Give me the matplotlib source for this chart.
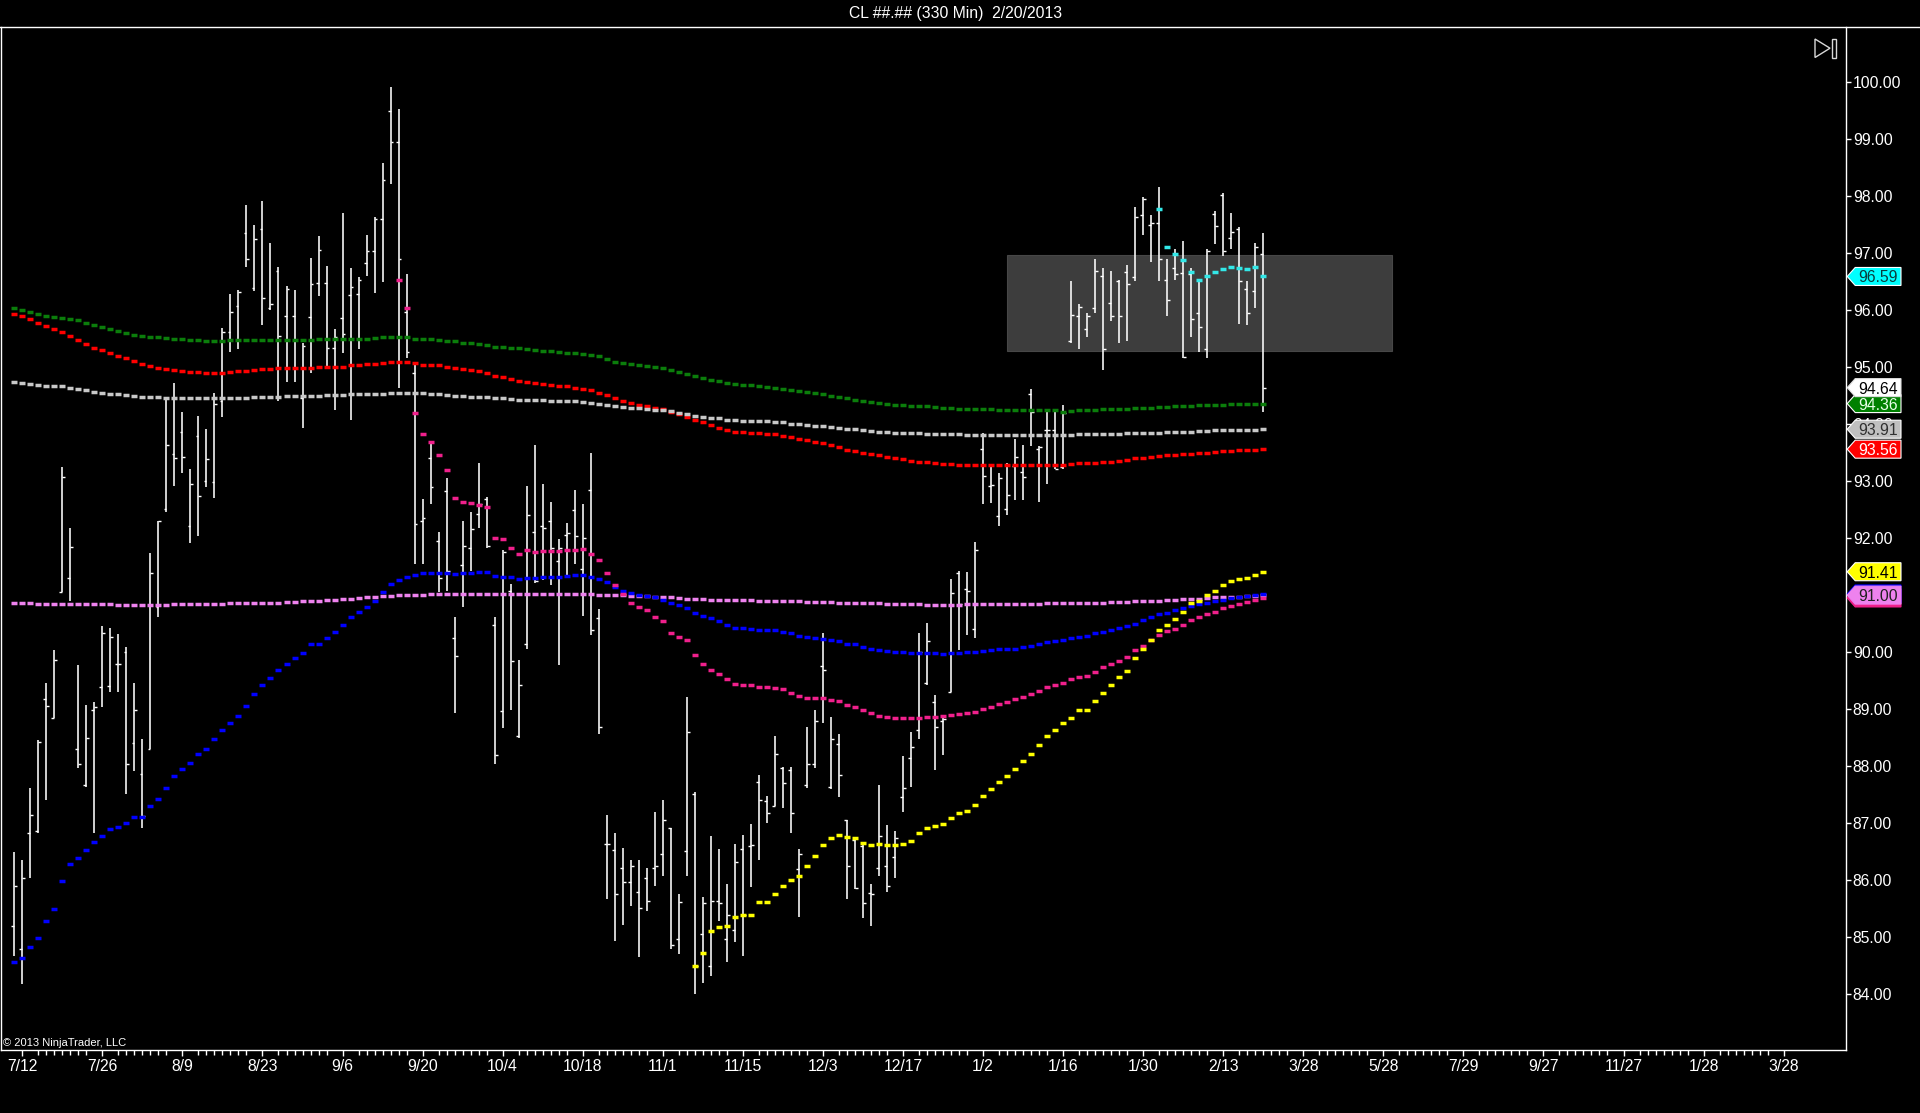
import numpy as np
import matplotlib
matplotlib.use("Agg")
import matplotlib.pyplot as plt
from matplotlib.patches import Polygon, Rectangle
from matplotlib.lines import Line2D

plt.rcParams['font.family'] = ['Liberation Sans', 'DejaVu Sans']

TITLE = "CL ##.## (330 Min)  2/20/2013"
COPYRIGHT = "\u00a9 2013 NinjaTrader, LLC"

OPEN = [85.19, 84.79, 86.83, 86.87, 89.17, 88.84, 91.06, 91.30, 88.30, 87.67,
        88.98, 89.38, 89.40, 89.80, 90.01, 88.41, 87.87, 88.30, 90.80, 92.51,
        93.48, 93.87, 92.22, 93.80, 93.01, 92.98, 94.40, 95.62, 96.08, 97.35,
        96.38, 97.43, 96.03, 96.69, 95.90, 95.90, 94.46, 95.88, 96.48, 96.48,
        95.34, 95.87, 96.26, 96.28, 96.83, 97.04, 97.60, 99.50, 98.95, 95.97,
        94.90, 92.30, 93.40, 91.95, 92.82, 90.24, 91.52, 91.83, 92.43, 92.69,
        90.48, 88.96, 91.08, 88.52, 90.14, 92.11, 92.22, 92.30, 91.60, 92.06,
        92.50, 91.45, 92.85, 90.59, 86.64, 86.52, 86.22, 85.96, 85.80, 86.03,
        86.22, 86.45, 86.91, 84.96, 86.51, 87.51, 85.06, 84.49, 85.64, 84.96,
        85.12, 86.54, 86.59, 87.72, 87.38, 87.30, 87.96, 87.93, 86.20, 87.67,
        88.03, 89.75, 87.64, 88.38, 87.06, 86.70, 86.59, 85.78, 86.22, 86.24,
        86.40, 87.46, 88.14, 88.64, 89.46, 89.12, 88.80, 89.30, 91.38, 91.11,
        90.41, 93.56, 92.92, 92.38, 92.51, 93.27, 93.16, 94.53, 93.56, 93.90,
        93.90, 93.24, 95.45, 95.90, 95.66, 96.03, 96.60, 96.13, 96.51, 96.67,
        96.58, 97.67, 97.50, 97.53, 96.53, 96.74, 96.65, 96.64, 95.95, 95.32,
        97.69, 98.02, 97.27, 97.42, 96.37, 96.34, 96.99]
HIGH = [86.49, 86.35, 87.61, 88.46, 89.46, 90.04, 93.25, 92.18, 89.77, 89.08,
        89.12, 90.46, 90.43, 90.31, 90.09, 89.46, 88.48, 91.74, 92.30, 94.45,
        94.72, 94.21, 93.21, 94.14, 93.92, 94.55, 95.69, 96.28, 96.35, 97.85,
        97.50, 97.92, 97.17, 96.75, 96.43, 96.35, 95.43, 96.92, 97.30, 96.78,
        95.67, 97.71, 96.74, 96.58, 97.32, 97.64, 98.58, 99.92, 99.53, 96.64,
        95.06, 92.68, 93.67, 92.11, 93.06, 90.62, 92.30, 92.45, 93.32, 92.72,
        90.62, 91.80, 91.19, 89.87, 92.92, 93.64, 92.95, 92.64, 91.99, 92.27,
        92.85, 92.59, 93.50, 90.75, 87.14, 86.83, 86.57, 86.35, 86.35, 86.22,
        87.19, 87.40, 86.91, 85.75, 89.22, 87.54, 85.70, 86.77, 86.54, 85.93,
        86.64, 86.80, 86.98, 87.85, 87.48, 88.52, 87.99, 87.99, 86.54, 88.69,
        88.98, 90.33, 88.87, 88.56, 87.06, 86.72, 86.64, 85.93, 87.66, 86.96,
        86.86, 88.17, 88.59, 90.33, 90.51, 89.25, 88.85, 91.29, 91.43, 91.40,
        91.93, 93.85, 93.27, 93.14, 93.32, 93.74, 93.64, 94.62, 93.61, 94.22,
        94.22, 94.34, 96.51, 96.11, 95.95, 96.90, 96.74, 96.69, 96.53, 96.79,
        97.81, 97.98, 97.66, 98.16, 96.90, 97.08, 97.21, 96.74, 96.55, 97.08,
        97.74, 98.06, 97.71, 97.45, 96.51, 97.18, 97.35]
LOW = [84.67, 84.17, 86.03, 86.83, 87.40, 88.84, 91.06, 90.89, 87.96, 87.64,
       86.82, 89.04, 89.30, 89.30, 87.51, 87.91, 86.91, 88.30, 90.61, 92.45,
       92.91, 93.14, 91.92, 92.03, 92.89, 92.71, 94.13, 95.27, 95.31, 96.76,
       96.34, 95.74, 96.00, 94.40, 94.74, 94.74, 93.94, 94.90, 96.24, 95.01,
       94.25, 95.25, 94.07, 95.32, 96.59, 96.30, 96.49, 98.21, 94.64, 95.16,
       91.54, 91.54, 92.59, 91.06, 91.08, 88.94, 90.80, 91.43, 92.17, 91.82,
       88.03, 88.66, 88.98, 88.50, 90.06, 91.22, 91.27, 91.17, 89.78, 91.32,
       91.54, 90.64, 90.30, 88.57, 85.66, 84.93, 85.22, 85.54, 84.65, 85.46,
       85.89, 86.07, 84.80, 84.70, 86.07, 84.01, 84.20, 84.31, 85.28, 84.56,
       84.91, 84.67, 85.88, 86.35, 87.01, 87.30, 87.27, 86.83, 85.36, 87.61,
       87.96, 88.75, 87.59, 87.46, 85.66, 85.85, 85.33, 85.19, 86.07, 85.80,
       86.03, 87.19, 87.64, 88.48, 89.43, 87.93, 88.20, 89.30, 90.03, 90.30,
       90.24, 92.59, 92.62, 92.22, 92.41, 92.66, 92.66, 93.61, 92.64, 92.95,
       93.22, 93.22, 95.43, 95.32, 95.53, 95.95, 94.95, 95.81, 95.42, 95.46,
       96.51, 97.32, 96.85, 96.51, 95.90, 96.53, 95.16, 95.53, 95.27, 95.16,
       97.16, 96.95, 97.08, 95.76, 95.74, 96.03, 94.22]
CLOSE = [85.89, 86.03, 87.14, 88.43, 89.06, 89.87, 93.08, 91.84, 88.03, 88.50,
         89.04, 90.33, 90.27, 89.80, 88.04, 88.98, 87.12, 91.38, 92.30, 93.64,
         93.40, 93.42, 92.95, 92.74, 93.38, 94.36, 95.62, 95.97, 96.32, 96.89,
         97.25, 96.22, 96.11, 95.54, 96.37, 94.98, 95.37, 96.46, 97.06, 95.34,
         95.53, 95.58, 96.40, 96.53, 97.04, 97.60, 98.29, 98.95, 96.90, 95.27,
         92.25, 92.35, 92.90, 91.30, 91.43, 89.93, 91.87, 92.16, 92.60, 91.87,
         88.19, 91.75, 89.85, 89.43, 92.40, 91.25, 92.17, 91.82, 91.82, 92.09,
         92.03, 92.01, 90.38, 88.69, 86.64, 85.75, 85.96, 86.24, 85.51, 85.64,
         86.24, 87.06, 84.86, 85.61, 88.59, 84.50, 85.60, 85.64, 85.59, 85.38,
         86.31, 85.38, 86.61, 87.40, 87.17, 88.22, 87.70, 87.17, 86.45, 88.03,
         88.80, 89.69, 88.48, 87.85, 86.24, 85.86, 85.59, 85.75, 86.77, 85.89,
         86.73, 87.61, 88.33, 90.00, 90.20, 88.69, 88.83, 91.03, 90.85, 91.08,
         91.80, 93.09, 92.93, 93.06, 92.76, 93.43, 93.08, 94.22, 93.59, 93.90,
         93.22, 94.20, 95.92, 96.06, 95.90, 96.69, 95.32, 95.90, 95.90, 96.45,
         97.64, 97.95, 97.53, 96.90, 96.18, 96.64, 95.18, 95.85, 95.71, 97.03,
         97.48, 97.04, 97.37, 96.51, 95.95, 97.11, 94.64]

MA_GREEN = [96.04, 96.00, 95.97, 95.93, 95.90, 95.88, 95.86, 95.84, 95.82, 95.78,
            95.74, 95.71, 95.67, 95.64, 95.60, 95.57, 95.55, 95.53, 95.52, 95.51,
            95.50, 95.49, 95.48, 95.47, 95.46, 95.46, 95.46, 95.47, 95.47, 95.47,
            95.47, 95.47, 95.47, 95.48, 95.48, 95.48, 95.48, 95.48, 95.49, 95.49,
            95.49, 95.49, 95.50, 95.50, 95.50, 95.51, 95.52, 95.53, 95.53, 95.52,
            95.50, 95.49, 95.49, 95.47, 95.46, 95.45, 95.43, 95.42, 95.40, 95.38,
            95.36, 95.35, 95.34, 95.33, 95.31, 95.30, 95.29, 95.28, 95.27, 95.25,
            95.24, 95.23, 95.22, 95.19, 95.14, 95.09, 95.07, 95.05, 95.04, 95.02,
            95.01, 94.98, 94.95, 94.92, 94.88, 94.84, 94.81, 94.78, 94.75, 94.72,
            94.70, 94.69, 94.68, 94.67, 94.65, 94.64, 94.62, 94.60, 94.58, 94.56,
            94.54, 94.52, 94.50, 94.48, 94.46, 94.43, 94.41, 94.39, 94.37, 94.35,
            94.34, 94.33, 94.32, 94.31, 94.31, 94.30, 94.29, 94.28, 94.27, 94.27,
            94.26, 94.26, 94.26, 94.25, 94.25, 94.25, 94.25, 94.24, 94.24, 94.24,
            94.24, 94.22, 94.23, 94.24, 94.24, 94.25, 94.26, 94.26, 94.27, 94.27,
            94.28, 94.29, 94.29, 94.30, 94.30, 94.31, 94.32, 94.32, 94.33, 94.33,
            94.34, 94.34, 94.35, 94.35, 94.35, 94.36, 94.36]
MA_RED = [95.94, 95.90, 95.85, 95.78, 95.72, 95.67, 95.62, 95.55, 95.48, 95.41,
          95.34, 95.30, 95.25, 95.20, 95.16, 95.11, 95.06, 95.02, 94.99, 94.97,
          94.95, 94.93, 94.92, 94.91, 94.90, 94.89, 94.90, 94.92, 94.93, 94.94,
          94.95, 94.96, 94.97, 94.98, 94.98, 94.99, 94.99, 94.99, 95.00, 95.00,
          95.00, 95.01, 95.03, 95.04, 95.05, 95.06, 95.08, 95.09, 95.09, 95.09,
          95.07, 95.04, 95.04, 95.03, 95.01, 94.99, 94.97, 94.95, 94.93, 94.89,
          94.85, 94.82, 94.79, 94.76, 94.74, 94.72, 94.70, 94.69, 94.67, 94.66,
          94.64, 94.61, 94.59, 94.55, 94.51, 94.45, 94.40, 94.37, 94.34, 94.31,
          94.29, 94.26, 94.22, 94.18, 94.13, 94.08, 94.03, 93.98, 93.93, 93.89,
          93.86, 93.86, 93.85, 93.84, 93.83, 93.82, 93.80, 93.77, 93.74, 93.72,
          93.69, 93.66, 93.63, 93.59, 93.54, 93.53, 93.50, 93.47, 93.45, 93.42,
          93.40, 93.38, 93.36, 93.34, 93.33, 93.31, 93.30, 93.30, 93.29, 93.29,
          93.29, 93.29, 93.29, 93.29, 93.29, 93.29, 93.29, 93.29, 93.29, 93.29,
          93.29, 93.29, 93.30, 93.31, 93.31, 93.32, 93.33, 93.34, 93.35, 93.37,
          93.40, 93.41, 93.43, 93.44, 93.45, 93.46, 93.47, 93.48, 93.49, 93.50,
          93.51, 93.52, 93.53, 93.54, 93.54, 93.55, 93.56]
MA_SILVER = [94.74, 94.72, 94.70, 94.68, 94.67, 94.67, 94.66, 94.64, 94.62, 94.59,
             94.56, 94.55, 94.53, 94.52, 94.51, 94.50, 94.48, 94.47, 94.47, 94.46,
             94.46, 94.46, 94.46, 94.46, 94.46, 94.46, 94.46, 94.46, 94.46, 94.46,
             94.47, 94.47, 94.48, 94.48, 94.49, 94.49, 94.49, 94.50, 94.50, 94.51,
             94.51, 94.51, 94.52, 94.52, 94.53, 94.53, 94.53, 94.54, 94.54, 94.54,
             94.54, 94.54, 94.53, 94.52, 94.51, 94.50, 94.49, 94.48, 94.47, 94.47,
             94.46, 94.45, 94.44, 94.43, 94.43, 94.42, 94.42, 94.41, 94.41, 94.40,
             94.40, 94.39, 94.37, 94.35, 94.33, 94.31, 94.30, 94.29, 94.28, 94.26,
             94.25, 94.24, 94.23, 94.20, 94.17, 94.15, 94.13, 94.11, 94.10, 94.08,
             94.07, 94.06, 94.06, 94.05, 94.05, 94.04, 94.03, 94.01, 94.00, 93.98,
             93.97, 93.96, 93.95, 93.93, 93.92, 93.92, 93.90, 93.88, 93.87, 93.86,
             93.85, 93.85, 93.84, 93.84, 93.83, 93.83, 93.82, 93.82, 93.82, 93.81,
             93.81, 93.81, 93.81, 93.81, 93.81, 93.81, 93.81, 93.81, 93.81, 93.81,
             93.81, 93.81, 93.81, 93.82, 93.82, 93.82, 93.82, 93.83, 93.83, 93.84,
             93.84, 93.84, 93.85, 93.85, 93.86, 93.86, 93.87, 93.87, 93.88, 93.88,
             93.89, 93.89, 93.89, 93.89, 93.90, 93.90, 93.91]
MA_VIOLET = [90.86, 90.86, 90.86, 90.85, 90.85, 90.85, 90.85, 90.85, 90.84, 90.84,
             90.84, 90.84, 90.84, 90.83, 90.83, 90.83, 90.82, 90.82, 90.83, 90.83,
             90.84, 90.84, 90.84, 90.85, 90.85, 90.85, 90.85, 90.86, 90.86, 90.86,
             90.86, 90.86, 90.87, 90.87, 90.88, 90.88, 90.89, 90.90, 90.90, 90.91,
             90.92, 90.93, 90.94, 90.95, 90.96, 90.97, 90.98, 90.99, 91.00, 91.00,
             91.01, 91.01, 91.02, 91.02, 91.02, 91.02, 91.02, 91.02, 91.02, 91.02,
             91.02, 91.02, 91.02, 91.02, 91.02, 91.02, 91.02, 91.02, 91.02, 91.02,
             91.02, 91.02, 91.02, 91.01, 91.01, 91.00, 91.00, 90.99, 90.98, 90.98,
             90.97, 90.96, 90.96, 90.95, 90.94, 90.93, 90.93, 90.92, 90.92, 90.91,
             90.91, 90.91, 90.91, 90.90, 90.90, 90.90, 90.89, 90.89, 90.89, 90.88,
             90.88, 90.88, 90.88, 90.87, 90.87, 90.87, 90.86, 90.86, 90.86, 90.85,
             90.85, 90.85, 90.84, 90.84, 90.83, 90.83, 90.83, 90.83, 90.83, 90.84,
             90.84, 90.84, 90.84, 90.84, 90.85, 90.85, 90.85, 90.85, 90.85, 90.86,
             90.86, 90.86, 90.86, 90.86, 90.87, 90.87, 90.87, 90.88, 90.88, 90.88,
             90.89, 90.89, 90.90, 90.90, 90.91, 90.92, 90.93, 90.93, 90.94, 90.95,
             90.96, 90.96, 90.97, 90.97, 90.98, 90.98, 91.00]
MA_BLUE = [84.56, 84.64, 84.82, 84.99, 85.28, 85.49, 85.98, 86.28, 86.38, 86.53,
           86.66, 86.77, 86.89, 86.94, 87.01, 87.10, 87.10, 87.30, 87.43, 87.61,
           87.82, 87.95, 88.06, 88.21, 88.30, 88.47, 88.63, 88.75, 88.88, 89.06,
           89.27, 89.42, 89.54, 89.69, 89.80, 89.90, 89.99, 90.14, 90.14, 90.24,
           90.35, 90.47, 90.62, 90.70, 90.79, 90.90, 91.06, 91.19, 91.27, 91.31,
           91.35, 91.38, 91.38, 91.39, 91.38, 91.37, 91.38, 91.39, 91.40, 91.40,
           91.33, 91.32, 91.31, 91.29, 91.30, 91.30, 91.32, 91.32, 91.32, 91.33,
           91.35, 91.35, 91.32, 91.29, 91.23, 91.15, 91.08, 91.03, 91.01, 90.98,
           90.96, 90.91, 90.87, 90.82, 90.78, 90.68, 90.64, 90.59, 90.55, 90.48,
           90.43, 90.42, 90.41, 90.39, 90.39, 90.38, 90.36, 90.33, 90.29, 90.27,
           90.25, 90.23, 90.21, 90.19, 90.15, 90.14, 90.09, 90.05, 90.03, 90.02,
           90.01, 90.00, 89.99, 89.99, 89.99, 89.98, 89.97, 89.98, 89.99, 90.00,
           90.01, 90.02, 90.04, 90.05, 90.05, 90.06, 90.09, 90.11, 90.14, 90.17,
           90.19, 90.21, 90.24, 90.27, 90.29, 90.33, 90.35, 90.38, 90.42, 90.45,
           90.50, 90.56, 90.61, 90.66, 90.69, 90.74, 90.78, 90.81, 90.84, 90.87,
           90.89, 90.92, 90.95, 90.97, 90.99, 91.00, 91.02]
PINK_START = 48
MA_PINK = [96.52, 96.04, 94.20, 93.82, 93.69, 93.45, 93.19, 92.71, 92.64, 92.61,
           92.58, 92.54, 92.01, 91.98, 91.83, 91.72, 91.80, 91.76, 91.78, 91.78,
           91.78, 91.80, 91.80, 91.81, 91.72, 91.61, 91.38, 91.17, 91.02, 90.87,
           90.79, 90.73, 90.61, 90.54, 90.33, 90.26, 90.21, 89.95, 89.80, 89.69,
           89.61, 89.53, 89.44, 89.42, 89.42, 89.38, 89.38, 89.37, 89.35, 89.29,
           89.23, 89.19, 89.19, 89.19, 89.16, 89.14, 89.08, 89.03, 88.98, 88.94,
           88.88, 88.87, 88.85, 88.85, 88.84, 88.85, 88.87, 88.87, 88.88, 88.89,
           88.91, 88.93, 88.95, 89.00, 89.04, 89.09, 89.13, 89.17, 89.21, 89.26,
           89.32, 89.38, 89.42, 89.46, 89.53, 89.57, 89.58, 89.65, 89.74, 89.80,
           89.85, 89.91, 90.03, 90.11, 90.21, 90.30, 90.37, 90.41, 90.48, 90.56,
           90.61, 90.67, 90.71, 90.77, 90.81, 90.85, 90.88, 90.91, 90.95]
YELLOW_START = 85
MA_YELLOW = [84.49, 84.72, 85.10, 85.17, 85.20, 85.36, 85.38, 85.38, 85.61, 85.61,
             85.75, 85.90, 86.01, 86.07, 86.24, 86.43, 86.61, 86.73, 86.79, 86.75,
             86.73, 86.65, 86.62, 86.63, 86.62, 86.62, 86.64, 86.69, 86.82, 86.91,
             86.95, 86.98, 87.09, 87.17, 87.22, 87.32, 87.47, 87.59, 87.72, 87.82,
             87.95, 88.09, 88.22, 88.37, 88.53, 88.63, 88.75, 88.85, 88.98, 88.98,
             89.14, 89.29, 89.43, 89.56, 89.67, 89.89, 90.05, 90.21, 90.39, 90.48,
             90.58, 90.71, 90.87, 90.90, 91.00, 91.08, 91.17, 91.24, 91.29, 91.30,
             91.35, 91.41]
CYAN_START = 143
MA_CYAN = [97.77, 97.10, 96.98, 96.88, 96.66, 96.52, 96.59, 96.66, 96.72, 96.75,
           96.73, 96.72, 96.75, 96.59]

X_TICK_LABELS = ["7/12", "7/26", "8/9", "8/23", "9/6", "9/20", "10/4", "10/18",
                 "11/1", "11/15", "12/3", "12/17", "1/2", "1/16", "1/30", "2/13",
                 "3/28", "5/28", "7/29", "9/27", "11/27", "1/28", "3/28"]
Y_TICKS = list(range(84, 101))

# drawn rectangle (bar index span, price span)
BOX_BARS = [123.96, 172.1]
BOX_PRICES = [95.29, 96.96]

# ---------------- layout ----------------
W, H = 1920, 1113
AX_L, AX_R, AX_T, AX_B = 1.0, 1845.7, 27.0, 1049.7
BAR0_PX, BAR_PX = 14.3, 8.006
Y100_PX, PX_PER_DOLLAR = 82.1, 57.0

fig = plt.figure(figsize=(W / 100, H / 100), dpi=100, facecolor='black')
ax = fig.add_axes([AX_L / W, 1 - AX_B / H, (AX_R - AX_L) / W, (AX_B - AX_T) / H])
ax.set_facecolor('black')
ax.set_xlim((AX_L - BAR0_PX) / BAR_PX, (AX_R - BAR0_PX) / BAR_PX)
ax.set_ylim(100 - (AX_B - Y100_PX) / PX_PER_DOLLAR, 100 + (Y100_PX - AX_T) / PX_PER_DOLLAR)

n = len(CLOSE)
assert len(OPEN) == n and len(HIGH) == n and len(LOW) == n
for s in (MA_GREEN, MA_RED, MA_SILVER, MA_VIOLET, MA_BLUE):
    assert len(s) == n, len(s)
assert PINK_START + len(MA_PINK) == n
assert YELLOW_START + len(MA_YELLOW) == n
assert CYAN_START + len(MA_CYAN) == n
idx = np.arange(n)

# drawn box
ax.add_patch(Rectangle((BOX_BARS[0], BOX_PRICES[0]), BOX_BARS[1] - BOX_BARS[0],
                       BOX_PRICES[1] - BOX_PRICES[0], facecolor='#3d3d3d',
                       edgecolor='#474747', lw=0.8, zorder=1))

# OHLC bars
tick = 0.36
ax.vlines(idx, LOW, HIGH, colors='white', lw=1.15, zorder=3)
ax.hlines(OPEN, idx - tick, idx, colors='white', lw=1.0, zorder=3)
ax.hlines(CLOSE, idx, idx + tick, colors='white', lw=1.0, zorder=3)

# indicator dashes
def dashes(start, vals, color, z=4):
    x = np.arange(start, start + len(vals))
    ax.plot(x, vals, ls='none', marker='_', ms=4.9, mew=2.5, color=color, zorder=z)

dashes(0, MA_VIOLET, '#EE82EE')
dashes(0, MA_GREEN, '#0B7D0B')
dashes(0, MA_RED, '#FF0000')
dashes(0, MA_SILVER, '#C8C8C8')
dashes(0, MA_BLUE, '#0000FF')
dashes(PINK_START, MA_PINK, '#F0208C')
dashes(YELLOW_START, MA_YELLOW, '#FFFF00')
dashes(CYAN_START, MA_CYAN, '#33E8E8')

# axes styling
for side in ('left', 'right', 'bottom'):
    ax.spines[side].set_color('white')
    ax.spines[side].set_linewidth(1.0)
ax.spines['top'].set_visible(False)

major = [1 + 10 * k for k in range(len(X_TICK_LABELS))]
minor = [1 + 10 * k + j for k in range(len(X_TICK_LABELS) - 1) for j in range(2, 9)]
ax.set_xticks(major)
ax.set_xticklabels(X_TICK_LABELS)
ax.set_xticks(minor, minor=True)
ax.tick_params(axis='x', which='major', direction='out', length=4.4, width=1.0,
               color='white', labelcolor='white', labelsize=11.3, pad=2.0)
ax.tick_params(axis='x', which='minor', direction='out', length=3.8, width=1.0,
               color='white')

ax.yaxis.tick_right()
ax.set_yticks(Y_TICKS)
ax.set_yticklabels([f"{v:.2f}" for v in Y_TICKS])
ax.tick_params(axis='y', which='major', direction='out', length=3.6, width=1.0,
               color='white', labelcolor='white', labelsize=11.3, pad=1.5)

# top border
fig.add_artist(Line2D([0, 1], [1 - AX_T / H] * 2, transform=fig.transFigure,
                      color='white', lw=1.0))

# price tags on the right axis (drawn over the axis labels, as in the chart)
def price_tag(value, face, txt_color, edge='white', show_text=True):
    yd = ax.transData.transform((0, value))[1]
    x0 = AX_R + 1.5
    x1 = x0 + 8
    x2 = 1901
    hh = 9
    pts = [(x0, yd), (x1, yd + hh), (x2, yd + hh), (x2, yd - hh), (x1, yd - hh)]
    pts = [(px / W, py / H) for px, py in pts]
    fig.add_artist(Polygon(pts, closed=True, transform=fig.transFigure,
                           facecolor=face, edgecolor=edge, lw=0.8, zorder=20))
    if show_text:
        fig.text(1878 / W, yd / H, f"{value:.2f}", ha='center', va='center_baseline',
                 fontsize=11.3, color=txt_color, zorder=21)

price_tag(MA_PINK[-1], '#F0208C', 'white', edge='#F0208C', show_text=False)
price_tag(MA_BLUE[-1], '#0000FF', 'white', edge='#0000FF', show_text=False)
price_tag(MA_VIOLET[-1], '#EE82EE', '#202020', edge='#EE82EE')
price_tag(MA_YELLOW[-1], '#FFFF00', 'black')
price_tag(MA_RED[-1], '#FF0000', 'white')
price_tag(MA_SILVER[-1], '#C0C0C0', '#303030')
price_tag(MA_GREEN[-1], '#008000', '#E8FFE8')
price_tag(CLOSE[-1], '#FFFFFF', 'black', edge='#DDDDDD')
price_tag(MA_CYAN[-1], '#00FFFF', '#0A3C3C')

# title and copyright
fig.text(956 / W, 1 - 13.5 / H, TITLE, ha='center', va='center', color='white',
         fontsize=11.3)
fig.text(3 / W, 1 - 1046.5 / H, COPYRIGHT, ha='left', va='baseline', color='white',
         fontsize=8)

# scroll-to-end icon (top right)
tri = [(1815, 39), (1830, 48.2), (1815, 57.5)]
fig.add_artist(Polygon([(x / W, 1 - y / H) for x, y in tri], closed=True,
                       transform=fig.transFigure, facecolor='none',
                       edgecolor='#D8D8D8', lw=1.0))
fig.add_artist(Rectangle((1832 / W, 1 - 57.5 / H), 4 / W, 18.5 / H,
                         transform=fig.transFigure, facecolor='none',
                         edgecolor='#D8D8D8', lw=1.0))

fig.savefig('out.png', dpi=100, facecolor='black')
